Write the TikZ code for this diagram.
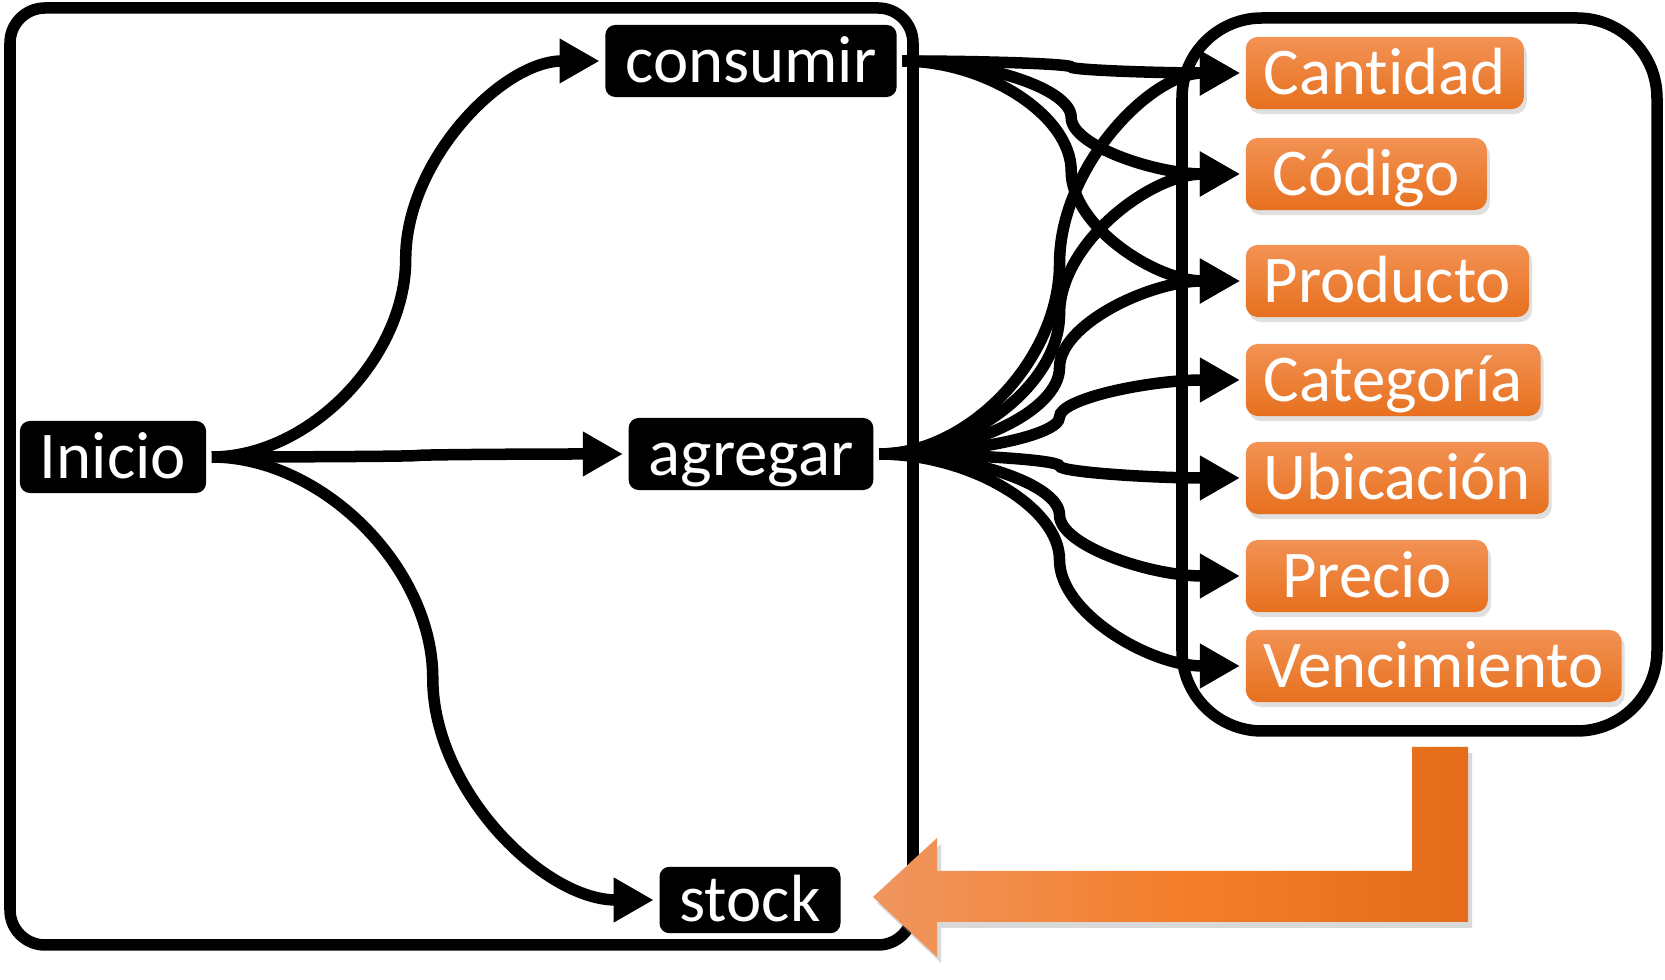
\documentclass[tikz,border=0pt]{standalone}
\usepackage{fontspec}
\setmainfont{Carlito}[Ligatures=NoCommon]
\usetikzlibrary{arrows.meta,shadows,calc}
\newlength{\LineWidth}
\newlength{\BoxHeight}
\setlength{\LineWidth}{1.15mm}
\setlength{\BoxHeight}{7.2mm}
\definecolor{fieldtop}{RGB}{242,146,84}
\definecolor{fieldbottom}{RGB}{231,112,30}
\definecolor{arrowleft}{RGB}{240,150,96}
\definecolor{arrowmid}{RGB}{243,127,44}
\definecolor{arrowright}{RGB}{228,108,26}
\tikzset{
  label font/.style={font=\fontsize{19}{23}\selectfont},
  black node/.style={label font, fill=black, text=white, rounded corners=1mm,
    minimum height=\BoxHeight, inner xsep=2mm, text height=4.3mm, text depth=0pt},
  field node/.style={label font, anchor=west, top color=fieldtop, bottom color=fieldbottom,
    text=white, rounded corners=1.2mm, minimum height=\BoxHeight, inner xsep=1.8mm,
    text height=4.3mm, text depth=0pt,
    drop shadow={shadow xshift=0.3mm, shadow yshift=-0.5mm, opacity=0.25}},
  curved conn/.style={to path={let \p1=(\tikztostart), \p2=(\tikztotarget) in
      .. controls ({0.75*\x1+0.25*\x2},\y1) and ({0.5*\x1+0.5*\x2},{0.75*\y1+0.25*\y2})
      .. ({0.5*\x1+0.5*\x2},{0.5*\y1+0.5*\y2})
      .. controls ({0.5*\x1+0.5*\x2},{0.25*\y1+0.75*\y2}) and ({0.25*\x1+0.75*\x2},\y2)
      .. (\tikztotarget)}},
  big arrow/.style={left color=arrowleft, right color=arrowright, middle color=arrowmid,
    drop shadow={shadow xshift=0.4mm, shadow yshift=-0.6mm, opacity=0.3}},
}

\begin{document}
\begin{tikzpicture}[
    x=0.01cm, y=-0.01cm,
    line width=\LineWidth,
    >={Triangle[length=4mm,width=4.2mm]}
  ]
  \useasboundingbox (0,0) rectangle (1665,980);

  \draw[rounded corners=3.5mm] (10,8) rectangle (913,945);
  \draw[rounded corners=8mm] (1182,18) rectangle (1657,731);

  \node[black node] (ini) at (113,457) {Inicio};
  \node[black node] (con) at (751,61) {consumir};
  \node[black node] (agr) at (751,454) {agregar};
  \node[black node, minimum height=6mm] (sto) at (750,900) {stock};

  \node[field node] (cant) at (1240,73) {Cantidad};
  \node[field node, minimum width=24.1mm] (cod) at (1240,174) {Código};
  \node[field node] (prod) at (1240,281) {Producto};
  \node[field node] (cat) at (1240,380) {Categoría};
  \node[field node] (ubi) at (1240,478) {Ubicación};
  \node[field node, minimum width=24.2mm] (pre) at (1240,576) {Precio};
  \node[field node] (ven) at (1240,666) {Vencimiento};

  \draw[->, curved conn] (ini.east) to (con.west);
  \draw[->, curved conn] (ini.east) to (agr.west);
  \draw[->, curved conn] (ini.east) to (sto.west);

  \draw[->, curved conn] (con.east) to (cant.west);
  \draw[->, curved conn] (con.east) to (cod.west);
  \draw[->, curved conn] (con.east) to (prod.west);

  \draw[->, curved conn] (agr.east) to (cant.west);
  \draw[->, curved conn] (agr.east) to (cod.west);
  \draw[->, curved conn] (agr.east) to (prod.west);
  \draw[->, curved conn] (agr.east) to (cat.west);
  \draw[->, curved conn] (agr.east) to (ubi.west);
  \draw[->, curved conn] (agr.east) to (pre.west);
  \draw[->, curved conn] (agr.east) to (ven.west);

  \path[big arrow] (1468,747) -- (1468,922) -- (937,922) -- (937,957) -- (873,897)
    -- (937,838) -- (937,871) -- (1412,871) -- (1412,747) -- cycle;

\end{tikzpicture}
\end{document}
